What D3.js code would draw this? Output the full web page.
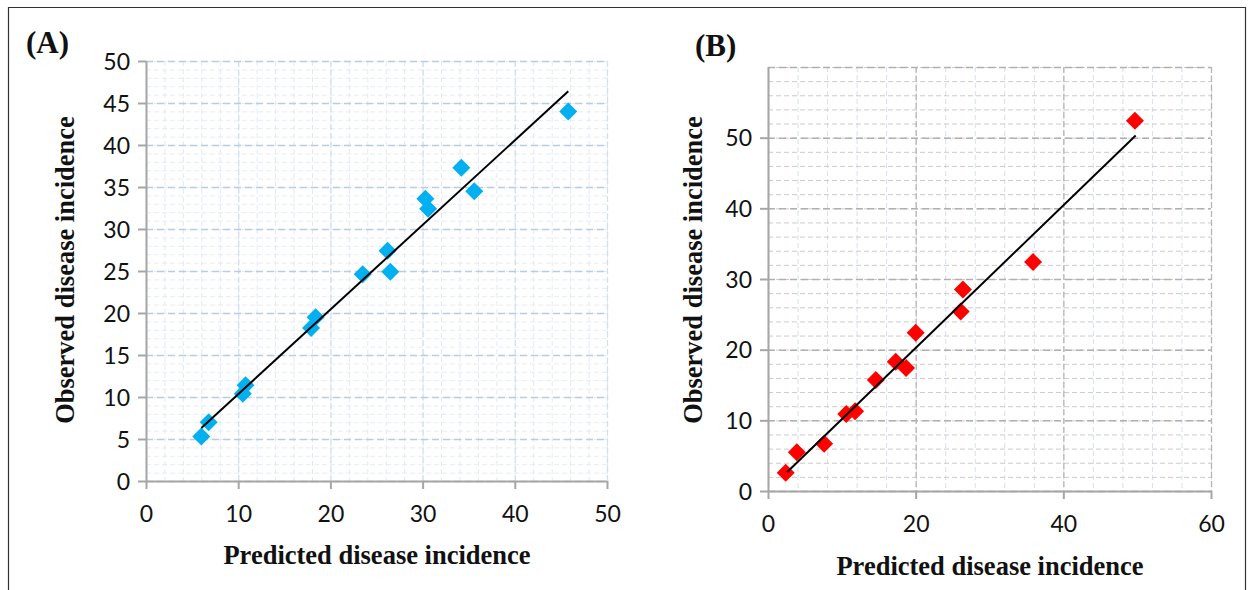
<!DOCTYPE html>
<html>
<head>
<meta charset="utf-8">
<script src="https://cdn.jsdelivr.net/npm/d3@7"></script>
<style>
  body { margin: 0; background: #fff; }
  svg { display: block; }
  .tick text { font-family: Lato, "Open Sans", sans-serif; font-size: 23px; fill: #111; }
  .title { font-family: "Liberation Serif", "Times New Roman", serif; font-weight: bold; fill: #111; }
</style>
</head>
<body>
<svg id="chart" width="1248" height="590"></svg>
<script>
// ── Data ────────────────────────────────────────────────────
const predictedA = [6.0, 6.8, 10.5, 10.8, 17.9, 18.4, 23.5, 26.2, 26.5, 30.3, 30.6, 34.2, 35.6, 45.8];
const observedA  = [5.3, 7.0, 10.4, 11.4, 18.2, 19.5, 24.6, 27.4, 24.9, 33.6, 32.4, 37.3, 34.5, 44.0];
const trendA     = [[6.0, 6.3], [45.8, 46.4]];
const xTicksA    = [0, 10, 20, 30, 40, 50];
const yTicksA    = [0, 5, 10, 15, 20, 25, 30, 35, 40, 45, 50];

const predictedB = [2.4, 3.9, 7.6, 10.6, 11.8, 14.6, 17.3, 18.7, 20.0, 26.1, 26.4, 35.9, 49.7];
const observedB  = [2.6, 5.5, 6.7, 10.9, 11.3, 15.7, 18.3, 17.4, 22.4, 25.4, 28.5, 32.4, 52.4];
const trendB     = [[2.6, 2.7], [49.8, 50.3]];
const xTicksB    = [0, 20, 40, 60];
const yTicksB    = [0, 10, 20, 30, 40, 50];

const svg = d3.select('#chart');

// figure frame
svg.append('path')
    .attr('d', 'M8.5,600 V7.5 H1245.5 V600')
    .attr('fill', 'none').attr('stroke', '#333').attr('stroke-width', 1.2);

function panel(cfg) {
    const x = d3.scaleLinear().domain(cfg.xDomain).range([cfg.left, cfg.right]);
    const y = d3.scaleLinear().domain(cfg.yDomain).range([cfg.bottom, cfg.top]);
    const g = svg.append('g');

    // minor grid
    g.append('g').selectAll('line.vmin')
        .data(d3.range(cfg.xDomain[0], cfg.xDomain[1] + 0.001, cfg.xMinor))
        .join('line')
        .attr('x1', d => x(d) + 0.5).attr('x2', d => x(d) + 0.5)
        .attr('y1', cfg.top).attr('y2', cfg.bottom)
        .attr('stroke', cfg.vMinorColor).attr('stroke-width', 1)
        .attr('stroke-dasharray', '5,3');
    g.append('g').selectAll('line.hmin')
        .data(d3.range(cfg.yDomain[0], cfg.yDomain[1] + 0.001, cfg.yMinor))
        .join('line')
        .attr('y1', d => y(d) + 0.5).attr('y2', d => y(d) + 0.5)
        .attr('x1', cfg.left).attr('x2', cfg.right)
        .attr('stroke', cfg.hMinorColor).attr('stroke-width', 1)
        .attr('stroke-dasharray', '5,3');
    // major grid
    g.append('g').selectAll('line.vmaj')
        .data(d3.range(cfg.xDomain[0], cfg.xDomain[1] + 0.001, cfg.xMajor))
        .join('line')
        .attr('x1', d => x(d) + 0.5).attr('x2', d => x(d) + 0.5)
        .attr('y1', cfg.top).attr('y2', cfg.bottom)
        .attr('stroke', cfg.vMajorColor).attr('stroke-width', 1.3)
        .attr('stroke-dasharray', '6,3');
    g.append('g').selectAll('line.hmaj')
        .data(d3.range(cfg.yDomain[0], cfg.yDomain[1] + 0.001, cfg.yMajor))
        .join('line')
        .attr('y1', d => y(d) + 0.5).attr('y2', d => y(d) + 0.5)
        .attr('x1', cfg.left).attr('x2', cfg.right)
        .attr('stroke', cfg.hMajorColor).attr('stroke-width', 1.5)
        .attr('stroke-dasharray', '7,4');

    // axes
    const xAxis = d3.axisBottom(x).tickValues(cfg.xTicks).tickSize(8).tickPadding(13).tickFormat(d3.format('d'));
    const yAxis = d3.axisLeft(y).tickValues(cfg.yTicks).tickSize(8).tickPadding(8).tickFormat(d3.format('d'));
    const gx = g.append('g').attr('transform', `translate(0,${cfg.bottom})`).call(xAxis);
    const gy = g.append('g').attr('transform', `translate(${cfg.left},0)`).call(yAxis);
    [gx, gy].forEach(a => {
        a.select('.domain').attr('stroke', '#a6a6a6').attr('stroke-width', 2);
        a.selectAll('.tick line').attr('stroke', '#a6a6a6').attr('stroke-width', 2);
    });
    gx.select('.domain').attr('d', `M${cfg.left},0.5H${cfg.right}`);
    gy.select('.domain').attr('d', `M0.5,${cfg.bottom}V${cfg.top}`);
    gx.selectAll('.tick text').attr('dy', '0.85em');
    gy.selectAll('.tick text').attr('dy', '0.36em');

    // diamonds
    const r = 9;
    g.append('g').selectAll('path')
        .data(cfg.xs.map((v, i) => [v, cfg.ys[i]]))
        .join('path')
        .attr('d', d => `M${x(d[0])},${y(d[1]) - r}L${x(d[0]) + r},${y(d[1])}L${x(d[0])},${y(d[1]) + r}L${x(d[0]) - r},${y(d[1])}Z`)
        .attr('fill', cfg.color);

    // trend line drawn over markers as in the reference
    g.append('line')
        .attr('x1', x(cfg.trend[0][0])).attr('y1', y(cfg.trend[0][1]))
        .attr('x2', x(cfg.trend[1][0])).attr('y2', y(cfg.trend[1][1]))
        .attr('stroke', '#000').attr('stroke-width', 2);

    // titles
    svg.append('text').attr('class', 'title')
        .attr('x', cfg.label[0]).attr('y', cfg.label[1])
        .attr('font-size', 31).text(cfg.name);
    svg.append('text').attr('class', 'title')
        .attr('x', cfg.xTitle[0]).attr('y', cfg.xTitle[1])
        .attr('text-anchor', 'middle').attr('font-size', 26.5)
        .text('Predicted disease incidence');
    svg.append('text').attr('class', 'title')
        .attr('transform', `translate(${cfg.yTitle[0]},${cfg.yTitle[1]}) rotate(-90)`)
        .attr('text-anchor', 'middle').attr('font-size', 26.5)
        .text('Observed disease incidence');
}

panel({
    name: '(A)', label: [26, 53],
    xs: predictedA, ys: observedA, trend: trendA, color: '#00b0f0',
    xDomain: [0, 50], yDomain: [0, 50], xTicks: xTicksA, yTicks: yTicksA,
    left: 146, right: 607, top: 61, bottom: 481,
    xMinor: 2, yMinor: 1, xMajor: 10, yMajor: 5,
    vMinorColor: '#e2e9f4', hMinorColor: '#e6ecf5', vMajorColor: '#d3dff0', hMajorColor: '#b9cce4',
    xTitle: [377, 564], yTitle: [74, 270]
});

panel({
    name: '(B)', label: [695, 56],
    xs: predictedB, ys: observedB, trend: trendB, color: '#ff0000',
    xDomain: [0, 60], yDomain: [0, 60], xTicks: xTicksB, yTicks: yTicksB,
    left: 768, right: 1211, top: 67, bottom: 491,
    xMinor: 4, yMinor: 2, xMajor: 20, yMajor: 10,
    vMinorColor: '#d6e0ef', hMinorColor: '#cbcbcb', vMajorColor: '#b5b5b5', hMajorColor: '#b0b0b0',
    xTitle: [990, 575], yTitle: [702, 270]
});
</script>
</body>
</html>
